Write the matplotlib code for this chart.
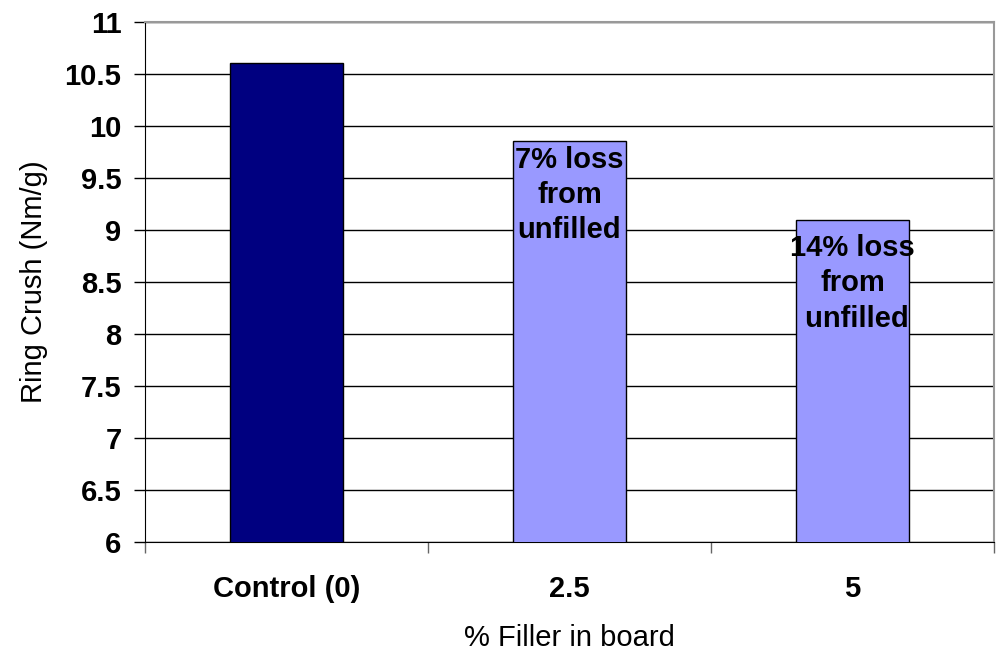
import numpy as np
import matplotlib.pyplot as plt

categories = ['Control (0)', '2.5', '5']
ring_crush = [10.6, 9.85, 9.1]
bar_colors = ['#000080', '#9999FF', '#9999FF']
notes = ['', '7% loss\nfrom\nunfilled', '14% loss\nfrom\n unfilled']
yticks = [6, 6.5, 7, 7.5, 8, 8.5, 9, 9.5, 10, 10.5, 11]
ytick_labels = ['6', '6.5', '7', '7.5', '8', '8.5', '9', '9.5', '10', '10.5', '11']

plt.rcParams['font.family'] = ['Liberation Sans', 'DejaVu Sans']

fig = plt.figure(figsize=(10, 6.66), dpi=100)
ax = fig.add_axes([0.145, 0.1862, 0.849, 0.781])

x = np.arange(len(categories))
ax.bar(x, ring_crush, width=0.4, color=bar_colors, edgecolor='black', linewidth=1, zorder=3)

# annotations inside the filled bars (second one sits a little lower)
note_drop = [0, 0.04, 0.14]
for i, txt in enumerate(notes):
    if txt:
        ax.text(x[i], ring_crush[i] - note_drop[i], txt, ha='center', va='top',
                fontsize=21, fontweight='bold', linespacing=1.33, zorder=4)

ax.set_xlim(-0.5, len(categories) - 0.5)
ax.set_ylim(6, 11)
ax.set_yticks(yticks)
ax.set_yticklabels(ytick_labels, fontsize=21, fontweight='bold')
ax.yaxis.grid(True, color='black', linewidth=1, zorder=0)

ax.set_xticks(x)
ax.set_xticklabels(categories, fontsize=21, fontweight='bold')
ax.set_xticks(np.arange(len(categories) + 1) - 0.5, minor=True)
ax.tick_params(axis='x', which='major', length=0, pad=24)
ax.tick_params(axis='x', which='minor', length=8, width=1, color='#666666')
ax.tick_params(axis='y', length=8, width=1, pad=9)

ax.spines['top'].set_color('#999999')
ax.spines['right'].set_color('#999999')
ax.spines['top'].set_linewidth(1.5)
ax.spines['right'].set_linewidth(1.5)

ax.set_ylabel('Ring Crush (Nm/g)', fontsize=21, labelpad=12)
ax.set_xlabel('% Filler in board', fontsize=21, labelpad=15)

plt.savefig('out.png', dpi=100)
plt.close()
